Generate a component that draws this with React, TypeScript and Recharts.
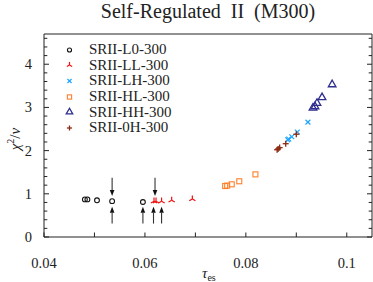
import React from 'react';
import { ScatterChart, Scatter, XAxis, YAxis, ReferenceLine, Legend } from 'recharts';

// ---- data ----
const L0_TAU = [0.0481, 0.0486, 0.0505, 0.0535, 0.0596];
const L0_CHI = [0.87, 0.87, 0.85, 0.83, 0.81];
const LL_TAU = [0.0618, 0.0622, 0.0633, 0.0653, 0.0694];
const LL_CHI = [0.83, 0.83, 0.83, 0.85, 0.88];
const LH_TAU = [0.0883, 0.0885, 0.0891, 0.0902, 0.0923];
const LH_CHI = [2.25, 2.27, 2.32, 2.43, 2.66];
const HL_TAU = [0.0759, 0.0763, 0.0772, 0.0787, 0.0819];
const HL_CHI = [1.18, 1.19, 1.22, 1.29, 1.45];
const HH_TAU = [0.0933, 0.0937, 0.0941, 0.0951, 0.0971];
const HH_CHI = [2.99, 3.02, 3.1, 3.23, 3.53];
const OH_TAU = [0.0862, 0.0864, 0.0867, 0.0879, 0.09];
const OH_CHI = [2.02, 2.04, 2.07, 2.16, 2.38];

const SERIES_NAMES = ['SRII-L0-300', 'SRII-LL-300', 'SRII-LH-300', 'SRII-HL-300', 'SRII-HH-300', 'SRII-0H-300'];

const DOWN_ARROW_TAU = [0.0535, 0.062];
const DOWN_ARROW_FROM = 1.37;
const DOWN_ARROW_TO = 0.95;
const UP_ARROW_TAU = [0.0535, 0.0596, 0.0617, 0.0633];
const UP_ARROW_FROM = 0.31;
const UP_ARROW_TO = 0.7;

const X_TICKS = [0.04, 0.05, 0.06, 0.07, 0.08, 0.09, 0.1];
const X_LABELS: Record<string, string> = { '0.04': '0.04', '0.06': '0.06', '0.08': '0.08', '0.1': '0.1' };
const Y_TICKS = [0, 0.2, 0.4, 0.6, 0.8, 1, 1.2, 1.4, 1.6, 1.8, 2, 2.2, 2.4, 2.6, 2.8, 3, 3.2, 3.4, 3.6, 3.8, 4, 4.2, 4.4, 4.6];
const Y_LABELS: Record<string, string> = { '0': '0', '1': '1', '2': '2', '3': '3', '4': '4' };

const TITLE = 'Self-Regulated  II  (M300)';

// ---- styles ----
const FONT = '"Liberation Serif", "DejaVu Serif", serif';
const AXIS = '#222';
const COLORS = ['#111111', '#ee1111', '#1fa5ff', '#ff7f2a', '#2e2e8e', '#8b2a10'];
const KINDS = ['circle', 'triup', 'x', 'square', 'triangle', 'plus'];

const toPoints = (xs: number[], ys: number[]) => xs.map((x, i) => ({ x, y: ys[i] }));
const SERIES = [
  toPoints(L0_TAU, L0_CHI),
  toPoints(LL_TAU, LL_CHI),
  toPoints(LH_TAU, LH_CHI),
  toPoints(HL_TAU, HL_CHI),
  toPoints(HH_TAU, HH_CHI),
  toPoints(OH_TAU, OH_CHI),
];

function Marker({ kind, cx, cy, color, s = 1 }: { kind: string; cx: number; cy: number; color: string; s?: number }) {
  switch (kind) {
    case 'circle':
      return <circle cx={cx} cy={cy} r={2.4 * s} fill="none" stroke={color} strokeWidth={1.1} />;
    case 'triup': {
      const r = 3.6 * s;
      return (
        <g stroke={color} strokeWidth={1.2} fill="none">
          <line x1={cx} y1={cy} x2={cx} y2={cy - r} />
          <line x1={cx} y1={cy} x2={cx - r * 0.866} y2={cy + r * 0.5} />
          <line x1={cx} y1={cy} x2={cx + r * 0.866} y2={cy + r * 0.5} />
        </g>
      );
    }
    case 'x': {
      const r = 2.4 * s;
      return (
        <g stroke={color} strokeWidth={1.2}>
          <line x1={cx - r} y1={cy - r} x2={cx + r} y2={cy + r} />
          <line x1={cx - r} y1={cy + r} x2={cx + r} y2={cy - r} />
        </g>
      );
    }
    case 'square': {
      const h = 2.5 * s;
      return <rect x={cx - h} y={cy - h} width={2 * h} height={2 * h} fill="none" stroke={color} strokeWidth={1.1} />;
    }
    case 'triangle': {
      const r = 4.4 * s;
      return (
        <polygon
          points={`${cx},${cy - r} ${cx - r * 0.866},${cy + r * 0.5} ${cx + r * 0.866},${cy + r * 0.5}`}
          fill="none"
          stroke={color}
          strokeWidth={1.3}
        />
      );
    }
    default: {
      const r = 3 * s;
      return (
        <g stroke={color} strokeWidth={1.3}>
          <line x1={cx - r} y1={cy} x2={cx + r} y2={cy} />
          <line x1={cx} y1={cy - r} x2={cx} y2={cy + r} />
        </g>
      );
    }
  }
}

const BottomTick = (p: any) => {
  const { x, y, payload } = p;
  const lab = X_LABELS[String(payload.value)];
  return (
    <g>
      <line x1={x} y1={y} x2={x} y2={y - 4.5} stroke={AXIS} strokeWidth={1} />
      {lab && (
        <text x={x} y={y + 31} textAnchor="middle" fontFamily={FONT} fontSize={14.5} fill="#222">
          {lab}
        </text>
      )}
    </g>
  );
};
const TopTick = (p: any) => {
  const { x, y } = p;
  return <line x1={x} y1={y} x2={x} y2={y + 4.5} stroke={AXIS} strokeWidth={1} />;
};
const LeftTick = (p: any) => {
  const { x, y, payload } = p;
  const lab = Y_LABELS[String(payload.value)];
  return (
    <g>
      <line x1={x} y1={y} x2={x + (lab ? 5 : 3.3)} y2={y} stroke={AXIS} strokeWidth={1} />
      {lab && (
        <text x={x - 12} y={y + 5} textAnchor="end" fontFamily={FONT} fontSize={14.5} fill="#222">
          {lab}
        </text>
      )}
    </g>
  );
};
const RightTick = (p: any) => {
  const { x, y, payload } = p;
  const lab = Y_LABELS[String(payload.value)];
  return <line x1={x} y1={y} x2={x - (lab ? 5 : 3.3)} y2={y} stroke={AXIS} strokeWidth={1} />;
};

const Arrow = (props: any) => {
  const { x1, y1, x2, y2 } = props;
  const dir = y2 > y1 ? 1 : -1;
  const head = 6;
  const hw = 2.3;
  return (
    <g>
      <line x1={x1} y1={y1} x2={x2} y2={y2 - dir * head} stroke="#333" strokeWidth={1.1} />
      <polygon points={`${x2},${y2} ${x2 - hw},${y2 - dir * head} ${x2 + hw},${y2 - dir * head}`} fill="#111" />
    </g>
  );
};

const XLabel = (props: any) => {
  const vb = props.viewBox || { x: 44, y: 237, width: 328, height: 45 };
  return (
    <text x={vb.x + vb.width / 2 - 6} y={vb.y + 41} fontFamily={FONT} fontSize={15} fill="#222">
      <tspan fontStyle="italic">τ</tspan>
      <tspan fontSize={10} dy={2.5}>es</tspan>
    </text>
  );
};

const YLabel = () => {
  const cx = 20;
  const cy = 139;
  return (
    <text x={cx} y={cy} textAnchor="middle" transform={`rotate(-90, ${cx}, ${cy})`} fontFamily={FONT} fontSize={15} fill="#222">
      <tspan fontStyle="italic">χ</tspan>
      <tspan fontSize={10} dy={-6}>2</tspan>
      <tspan dy={6}>/</tspan>
      <tspan fontStyle="italic">ν</tspan>
    </text>
  );
};

const LegendBox = () => (
  <div style={{ fontFamily: FONT, fontSize: 15, color: '#222' }}>
    {SERIES_NAMES.map((name, i) => (
      <div key={name} style={{ display: 'flex', alignItems: 'center', height: 15.67, whiteSpace: 'nowrap' }}>
        <svg width={15} height={14} style={{ flex: 'none' }}>
          <Marker kind={KINDS[i]} cx={7.5} cy={7} color={COLORS[i]} s={0.85} />
        </svg>
        <span style={{ marginLeft: 12, lineHeight: '15.67px' }}>{name}</span>
      </div>
    ))}
  </div>
);

export default function App() {
  return (
    <div style={{ position: 'absolute', left: 0, top: 0, width: 373, height: 282, background: '#fff', fontFamily: FONT }}>
      <div
        style={{
          position: 'absolute',
          left: 44,
          top: -1,
          width: 328,
          textAlign: 'center',
          fontSize: 20,
          lineHeight: '24px',
          whiteSpace: 'pre',
          color: '#222',
          zIndex: 2,
        }}
      >
        {TITLE}
      </div>
      <ScatterChart width={373} height={282} margin={{ top: 0, right: 0, bottom: 0, left: 0 }}>
        <XAxis
          xAxisId={0}
          dataKey="x"
          type="number"
          domain={[0.04, 0.105]}
          ticks={X_TICKS}
          interval={0}
          tickSize={0}
          tickMargin={0}
          height={45}
          tick={BottomTick}
          tickLine={false}
          axisLine={{ stroke: AXIS }}
          allowDataOverflow
          label={XLabel}
        />
        <XAxis
          xAxisId="top"
          orientation="top"
          type="number"
          domain={[0.04, 0.105]}
          ticks={X_TICKS}
          interval={0}
          tickSize={0}
          tickMargin={0}
          height={34}
          tick={TopTick}
          tickLine={false}
          axisLine={{ stroke: AXIS }}
          allowDataOverflow
        />
        <YAxis
          yAxisId={0}
          dataKey="y"
          type="number"
          domain={[0, 4.7]}
          ticks={Y_TICKS}
          interval={0}
          tickSize={0}
          tickMargin={0}
          width={44}
          tick={LeftTick}
          tickLine={false}
          axisLine={{ stroke: AXIS }}
          allowDataOverflow
          label={YLabel}
        />
        <YAxis
          yAxisId="right"
          orientation="right"
          type="number"
          domain={[0, 4.7]}
          ticks={Y_TICKS}
          interval={0}
          tickSize={0}
          tickMargin={0}
          width={1}
          tick={RightTick}
          tickLine={false}
          axisLine={{ stroke: AXIS }}
          allowDataOverflow
        />
        {DOWN_ARROW_TAU.map((t) => (
          <ReferenceLine
            key={'d' + t}
            segment={[{ x: t, y: DOWN_ARROW_FROM }, { x: t, y: DOWN_ARROW_TO }]}
            shape={Arrow}
            stroke="#333"
          />
        ))}
        {UP_ARROW_TAU.map((t) => (
          <ReferenceLine
            key={'u' + t}
            segment={[{ x: t, y: UP_ARROW_FROM }, { x: t, y: UP_ARROW_TO }]}
            shape={Arrow}
            stroke="#333"
          />
        ))}
        {SERIES.map((data, i) => (
          <Scatter
            key={SERIES_NAMES[i]}
            name={SERIES_NAMES[i]}
            data={data}
            fill={COLORS[i]}
            isAnimationActive={false}
            shape={(p: any) => <Marker kind={KINDS[i]} cx={p.cx} cy={p.cy} color={COLORS[i]} />}
          />
        ))}
        <Legend
          layout="vertical"
          align="center"
          verticalAlign="middle"
          wrapperStyle={{ left: 62, top: 42, width: 150, height: 96 }}
          content={() => <LegendBox />}
        />
      </ScatterChart>
    </div>
  );
}
